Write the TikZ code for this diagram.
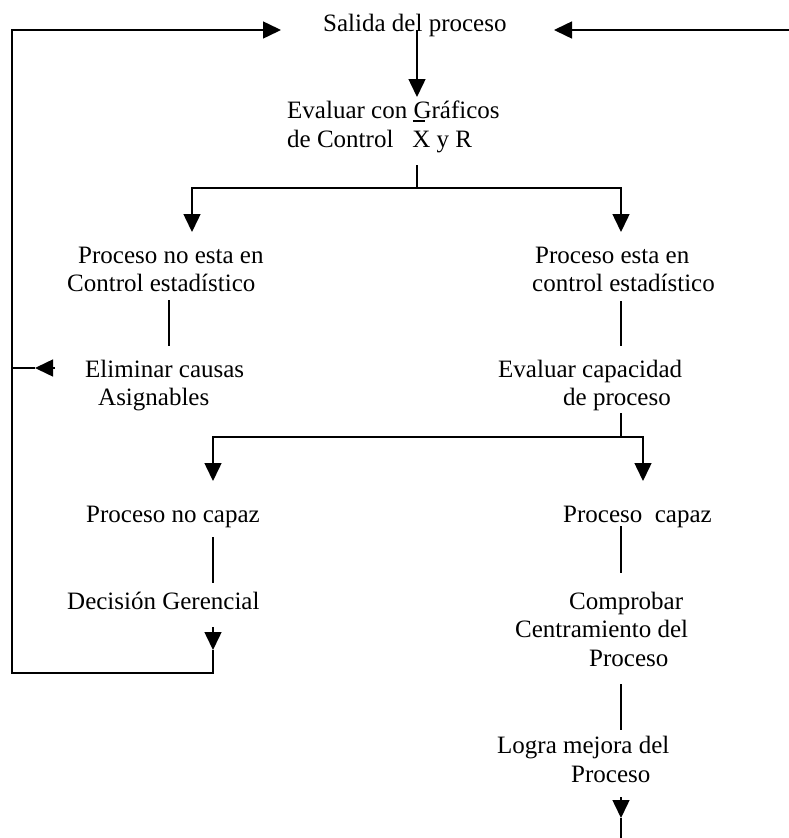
\documentclass[tikz,border=0pt]{standalone}
\usepackage{fontspec}
\setmainfont{Liberation Serif}
\usetikzlibrary{arrows.meta}
% X with a bar over it, set in the text font
\newcommand{\xbarred}{\rlap{\hspace{0.5pt}\rule[25.5pt]{12pt}{1.2pt}}X}
\tikzset{
  lbl/.style={anchor=base west, inner sep=0pt, font=\fontsize{25pt}{29pt}\selectfont},
  link/.style={line width=1.5pt},
  arr/.style={link, -{Triangle[length=18pt,width=17pt]}},
}
\begin{document}
\begin{tikzpicture}[x=1pt,y=-1pt]
\useasboundingbox[fill=white] (0,0) rectangle (789,838);

% ---- text of the flow ----
\node[lbl] (salida)   at (323,31)  {Salida del proceso};
\node[lbl] (graf1)    at (287,118) {Evaluar con Gráficos};
\node[lbl] (graf2)    at (287,147) {de Control\hspace{19pt}\xbarred{} y R};
\node[lbl] (noctl1)   at (78,263)  {Proceso no esta en};
\node[lbl] (noctl2)   at (67,291)  {Control estadístico};
\node[lbl] (ctl1)     at (535,263) {Proceso esta en};
\node[lbl] (ctl2)     at (532,291) {control estadístico};
\node[lbl] (elim1)    at (85,377)  {Eliminar causas};
\node[lbl] (elim2)    at (98,405)  {Asignables};
\node[lbl] (cap1)     at (498,377) {Evaluar capacidad};
\node[lbl] (cap2)     at (563,405) {de proceso};
\node[lbl] (nocapaz)  at (86,522)  {Proceso no capaz};
\node[lbl] (capaz)    at (563,522) {Proceso\ \ capaz};
\node[lbl] (dec)      at (67,609)  {Decisión Gerencial};
\node[lbl] (comp1)    at (569,609) {Comprobar};
\node[lbl] (comp2)    at (515,637) {Centramiento del};
\node[lbl] (comp3)    at (589,666) {Proceso};
\node[lbl] (logra1)   at (497,753) {Logra mejora del};
\node[lbl] (logra2)   at (571,782) {Proceso};

% ---- junction points ----
\coordinate (inR)    at (789,30);
\coordinate (inRtip) at (554,30);
\coordinate (inLtip) at (281,30);
\coordinate (topdown) at (417,30);
\coordinate (grafin) at (417,97);
\coordinate (grafout) at (417,165);
\coordinate (split1) at (417,188);
\coordinate (noctlin) at (192,232);
\coordinate (ctlin)   at (621,232);
\coordinate (loopTL)  at (12,30);
\coordinate (loopBL)  at (12,673);
\coordinate (loopBR)  at (213,673);
\coordinate (eltip)   at (35,368);
\coordinate (elstart) at (55,368);
\coordinate (elwall)  at (12,368);
\coordinate (capout)  at (621,413);
\coordinate (split2)  at (621,437);
\coordinate (nocapin) at (213,481);
\coordinate (capin)   at (643,481);
\coordinate (decstart) at (213,627);
\coordinate (dectip)  at (213,650);
\coordinate (endstart) at (621,797);
\coordinate (endtip)  at (621,818);
\coordinate (endbot)  at (621,838);

% ---- connectors ----
\draw[arr] (inR) -- (inRtip);
\draw[arr] (topdown) -- (grafin);
\draw[link] (grafout) -- (split1);
\draw[arr] (split1) -| (noctlin);
\draw[arr] (split1) -| (ctlin);

\draw[link] (169,300) -- (169,346);
\draw[link] (621,301) -- (621,346);

\draw[link] (elwall) -- (eltip);
\draw[arr] (elstart) -- (eltip);

\draw[link] (capout) -- (split2);
\draw[arr] (split2) -| (nocapin);
\draw[arr] (split2) -| (capin);

\draw[link] (213,537) -- (213,583);
\draw[link] (621,526) -- (621,573);
\draw[link] (621,684) -- (621,730);

% return loop from the management decision
\draw[arr] (decstart) -- (dectip);
\draw[arr] (dectip) -- (loopBR) -- (loopBL) -- (loopTL) -- (inLtip);

\draw[arr] (endstart) -- (endtip);
\draw[link] (endtip) -- (endbot);
\end{tikzpicture}
\end{document}
